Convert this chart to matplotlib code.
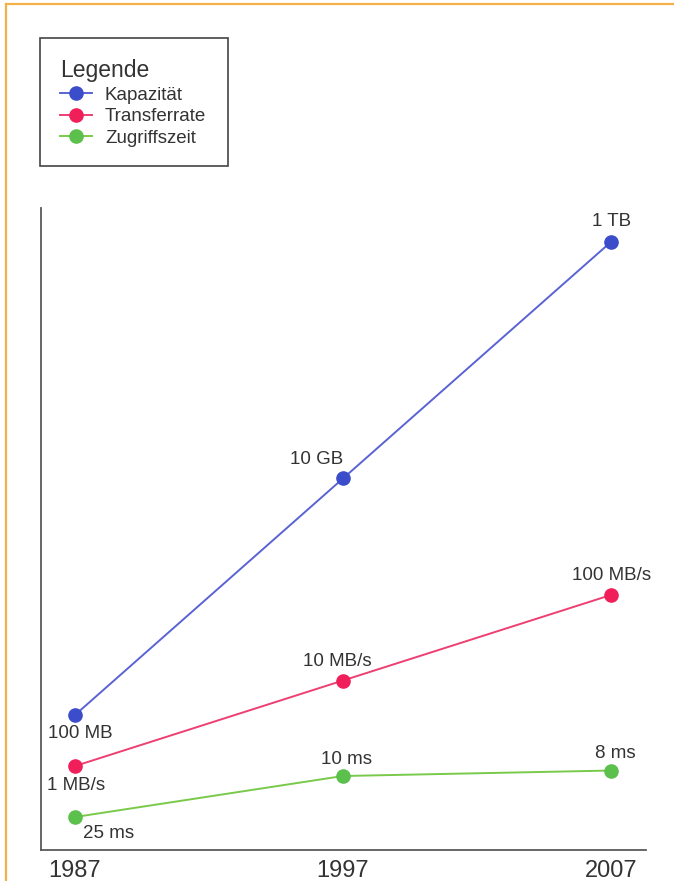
import matplotlib
matplotlib.use("Agg")
import matplotlib.pyplot as plt
from matplotlib.lines import Line2D
from matplotlib.patches import Rectangle

plt.rcParams['font.family'] = ['Liberation Sans', 'DejaVu Sans']

# Data
years = [1987, 1997, 2007]
capacity_mb = [100, 10_000, 1_000_000]        # Kapazität in MB
capacity_labels = ["100 MB", "10 GB", "1 TB"]
transfer_mbs = [1, 10, 100]                     # Transferrate in MB/s
transfer_labels = ["1 MB/s", "10 MB/s", "100 MB/s"]
access_ms = [25, 10, 8]                         # Zugriffszeit in ms
access_labels = ["25 ms", "10 ms", "8 ms"]
series_names = ["Kapazität", "Transferrate", "Zugriffszeit"]

W, H = 674, 881
fig = plt.figure(figsize=(W / 100, H / 100), dpi=100)
fig.patch.set_facecolor("white")

text_col = "#333333"
axis_col = "#5a5a5a"

ax = fig.add_axes([41 / W, 31 / H, 605 / W, 642 / H])
ax.set_xlim(1985.73, 2008.31)
ax.set_yticks([])
ax.set_xticks(years)
ax.set_xticklabels([str(y) for y in years], fontsize=17, color=text_col)
ax.tick_params(axis="x", length=0, pad=7)
for side in ("top", "right"):
    ax.spines[side].set_visible(False)
for side in ("left", "bottom"):
    ax.spines[side].set_color(axis_col)
    ax.spines[side].set_linewidth(1.3)
ax.patch.set_alpha(0)


def series_axis(scale, lims):
    a = ax.twinx()
    a.set_yscale(scale)
    a.set_ylim(*lims)
    a.set_axis_off()
    return a


ax_cap = series_axis("log", (10 ** 0.858, 10 ** 6.2875))
ax_tr = series_axis("log", (10 ** -0.982, 10 ** 6.526))
ax_acc = series_axis("linear", (37.07, -197.8))

styles = [
    (ax_cap, capacity_mb, capacity_labels, "#5a63d4", "#3c4dcb",
     [(3.6, -13.7), (-18.7, 13.7), (0.7, 14.4)]),
    (ax_tr, transfer_mbs, transfer_labels, "#ee3f72", "#f01f59",
     [(0.7, -13.7), (-4.3, 13.7), (0.7, 13.7)]),
    (ax_acc, access_ms, access_labels, "#79c94a", "#5cc04c",
     [(23.8, -12.2), (2.9, 12.2), (2.9, 12.2)]),
]

handles = []
for (a, vals, labels, lc, mc, offsets), name in zip(styles, series_names):
    ln, = a.plot(years, vals, color=lc, lw=1.4, marker="o", markersize=9.5,
                 markerfacecolor=mc, markeredgecolor=mc, clip_on=False)
    handles.append(ln)
    for x, v, lab, off in zip(years, vals, labels, offsets):
        a.annotate(lab, (x, v), xytext=off, textcoords="offset points",
                   ha="center", va="center", fontsize=13.5, color=text_col)

# Legend box
fig.patches.append(Rectangle((40 / W, 1 - 166 / H), 188 / W, 128 / H,
                             transform=fig.transFigure, fill=False,
                             edgecolor="#444444", lw=1.2))
leg = fig.legend(handles, series_names, loc="upper left",
                 bbox_to_anchor=(60 / W, 1 - 59 / H), frameon=False,
                 title="Legende", title_fontsize=16.5, fontsize=13.5,
                 alignment="left", handlelength=1.7, handletextpad=0.7,
                 labelspacing=0.24, borderpad=0, borderaxespad=0)
for t in leg.get_texts():
    t.set_color(text_col)
leg.get_title().set_color(text_col)

# Orange page frame
frame_col = "#f5b04a"
fig.lines.append(Line2D([6 / W, 6 / W], [0, 1 - 4 / H], transform=fig.transFigure,
                        color=frame_col, lw=1.6))
fig.lines.append(Line2D([6 / W, 1], [1 - 4 / H, 1 - 4 / H], transform=fig.transFigure,
                        color=frame_col, lw=1.6))

fig.savefig("out.png", dpi=100)
